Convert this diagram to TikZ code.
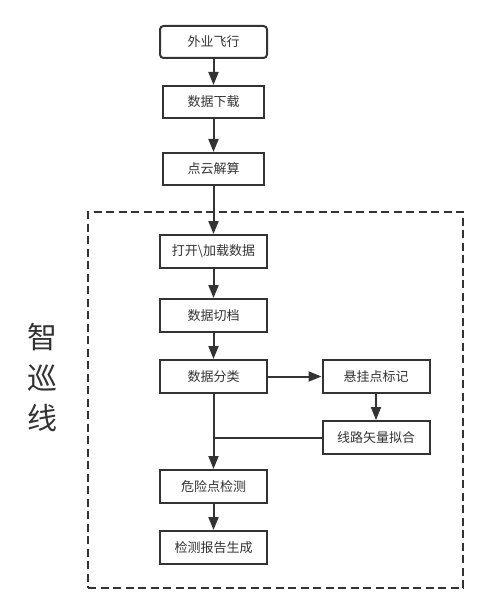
\documentclass[tikz,border=0pt]{standalone}
\usepackage{fontspec}
\setmainfont{Noto Sans CJK SC}
\usetikzlibrary{arrows.meta}
\definecolor{flowgray}{RGB}{51,51,51}
\tikzset{
  fbox/.style={rectangle, draw=flowgray, fill=white, line width=2pt,
               minimum width=107pt, minimum height=32pt, inner sep=0pt,
               font=\fontsize{13}{15}\selectfont, text=flowgray},
  fstart/.style={fbox, rounded corners=3.5pt},
  fline/.style ={draw=flowgray, line width=2pt},
  farrow/.style={fline, -{Triangle[length=13pt, width=10pt]}},
  fgroup/.style={rectangle, draw=flowgray, line width=2pt, dash pattern=on 8pt off 4.5pt,
                 minimum width=375pt, minimum height=376pt, inner sep=0pt},
  fside/.style ={font=\fontsize{30}{40.5}\selectfont, text=flowgray, align=center},
}
\begin{document}
\begin{tikzpicture}[x=1pt, y=-1pt]
\useasboundingbox (0,0) rectangle (491,612);
% group frame and its label
\node[fgroup] (zone) at (275.5,400) {};
\node[fside] (zonelabel) at (42,378) {智\\巡\\线};
% main column
\node[fstart] (fly) at (213.5,42) {外业飞行};
\node[fbox, minimum width=101pt] (load) at (213.5,102) {数据下载};
\node[fbox, minimum width=101pt] (solve) at (213.5,169) {点云解算};
\node[fbox, minimum height=33pt] (open) at (213.5,251.5) {打开\textbackslash 加载数据};
\node[fbox, minimum height=33pt] (cut) at (213.5,315.5) {数据切档};
\node[fbox, minimum height=33pt] (sort) at (213.5,376.5) {数据分类};
\node[fbox, minimum height=33pt] (hang) at (376,376.5) {悬挂点标记};
\node[fbox, minimum height=33pt] (fit) at (376,437.5) {线路矢量拟合};
\node[fbox, minimum height=33pt] (danger) at (213.5,486.5) {危险点检测};
\node[fbox, minimum height=33pt] (report) at (213.5,547.5) {检测报告生成};
\coordinate (merge) at (fit.west -| sort.south);
% connectors
\draw[farrow] (fly) -- (load);
\draw[farrow] (load) -- (solve);
\draw[farrow] (solve) -- (open);
\draw[farrow] (open) -- (cut);
\draw[farrow] (cut) -- (sort);
\draw[farrow] (sort) -- (hang);
\draw[farrow] (hang) -- (fit);
\draw[fline] (fit) -- (merge);
\draw[farrow] (sort) -- (danger);
\draw[farrow] (danger) -- (report);
\end{tikzpicture}
\end{document}
